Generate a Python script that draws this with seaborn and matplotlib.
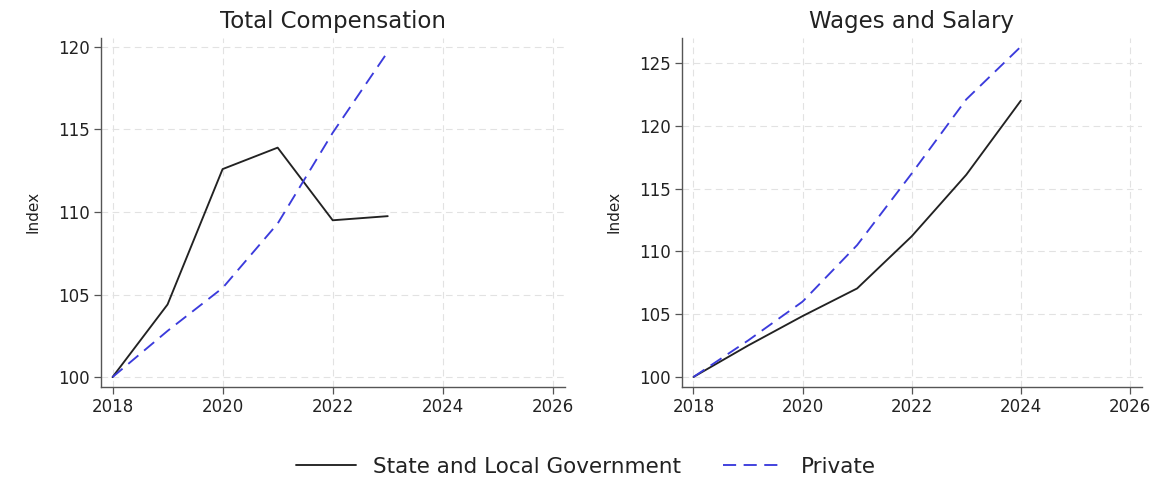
import matplotlib
matplotlib.use("Agg")
import matplotlib.pyplot as plt
from matplotlib.lines import Line2D
import seaborn as sns
import pandas as pd

# Index values (2018 = 100)
years_tc = [2018, 2019, 2020, 2021, 2022, 2023]
tc_state_local = [100.0, 104.4, 112.6, 113.9, 109.5, 109.75]
tc_private = [100.0, 102.8, 105.4, 109.3, 114.8, 119.7]

years_ws = [2018, 2019, 2020, 2021, 2022, 2023, 2024]
ws_state_local = [100.0, 102.5, 104.85, 107.05, 111.2, 116.1, 122.0]
ws_private = [100.0, 102.9, 106.0, 110.5, 116.2, 122.1, 126.3]

series_names = ["State and Local Government", "Private"]
panel_titles = ["Total Compensation", "Wages and Salary"]
x_ticks = [2018, 2020, 2022, 2024, 2026]


def long_frame(years, state_vals, private_vals):
    return pd.concat([
        pd.DataFrame({"year": years, "value": state_vals, "series": series_names[0]}),
        pd.DataFrame({"year": years, "value": private_vals, "series": series_names[1]}),
    ], ignore_index=True)


frames = [
    long_frame(years_tc, tc_state_local, tc_private),
    long_frame(years_ws, ws_state_local, ws_private),
]

sns.set_theme(style="white")
plt.rcParams["font.family"] = ["DejaVu Sans"]

fig = plt.figure(figsize=(11.71, 4.79), dpi=100)
ax_left = fig.add_axes([0.0862, 0.192, 0.3963, 0.729])
ax_right = fig.add_axes([0.5824, 0.192, 0.3928, 0.729])

palette = {series_names[0]: "#222222", series_names[1]: "#3b3bdc"}
dash_pattern = (7, 4)
dashes = {series_names[0]: "", series_names[1]: dash_pattern}

panel_specs = [
    (ax_left, frames[0], (99.4, 120.55), [100, 105, 110, 115, 120]),
    (ax_right, frames[1], (99.2, 127.0), [100, 105, 110, 115, 120, 125]),
]

for (ax, df, ylim, yticks), title in zip(panel_specs, panel_titles):
    sns.lineplot(data=df, x="year", y="value", hue="series", style="series",
                 palette=palette, dashes=dashes, linewidth=1.35, ax=ax,
                 legend=False, errorbar=None)
    ax.set_xlim(2017.79, 2026.22)
    ax.set_ylim(*ylim)
    ax.set_xticks(x_ticks)
    ax.set_yticks(yticks)
    ax.set_xlabel("")
    ax.set_ylabel("Index", fontsize=11, color="#222222", labelpad=13)
    ax.set_title(title, fontsize=16.5, color="#222222", pad=7)
    ax.grid(True, color="#e2e2e2", linestyle=(0, (6, 4)), linewidth=0.8)
    for side in ("top", "right"):
        ax.spines[side].set_visible(False)
    for side in ("left", "bottom"):
        ax.spines[side].set_color("#555555")
        ax.spines[side].set_linewidth(1.0)
    ax.tick_params(axis="both", which="major", direction="out", length=5,
                   width=0.9, color="#555555", labelsize=12,
                   labelcolor="#222222", left=True, bottom=True, pad=3)

handles = [
    Line2D([], [], color=palette[series_names[0]], linewidth=1.35),
    Line2D([], [], color=palette[series_names[1]], linewidth=1.35,
           dashes=dash_pattern),
]
fig.legend(handles, series_names, loc="center", bbox_to_anchor=(0.5, 0.026),
           ncol=2, frameon=False, fontsize=15.5, handlelength=2.8,
           columnspacing=1.95, handletextpad=0.8, labelcolor="#222222")

fig.savefig("out.png", dpi=100, facecolor="white")
